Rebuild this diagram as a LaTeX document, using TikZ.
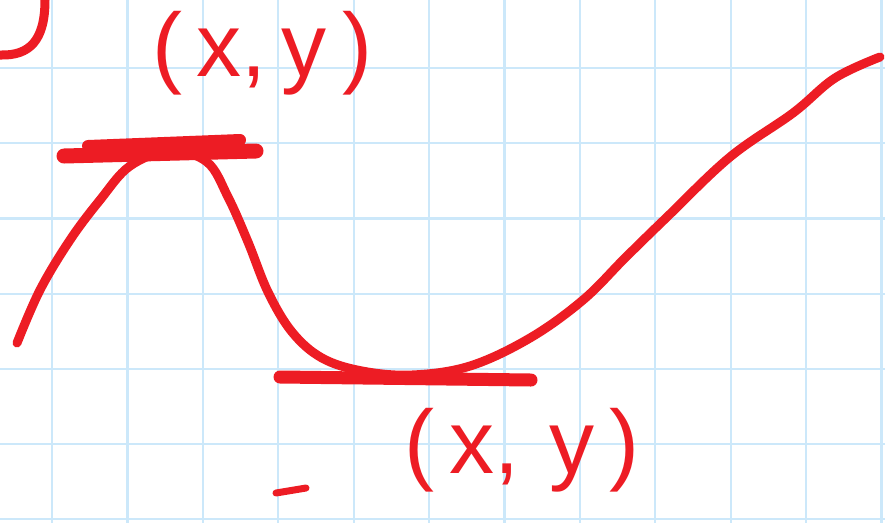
\documentclass[tikz,border=0pt]{standalone}
\usepackage{fontspec}
\setmainfont{Liberation Sans}
\usepackage{tikz}
\definecolor{inkred}{RGB}{237,28,36}
\definecolor{gridblue}{RGB}{204,232,250}
\tikzset{
  gridline/.style={draw=gridblue, line width=2.2pt},
  ink/.style={draw=inkred, line width=9pt, line cap=round, line join=round},
  tangent/.style={ink, line width=13pt},
  point/.style={text=inkred, font=\fontsize{90}{90}\selectfont, inner sep=0pt},
}

\begin{document}
\begin{tikzpicture}[x=1pt, y=-1pt]
\useasboundingbox (0,0) rectangle (885,523);
\fill[white] (0,0) rectangle (885,523);
% squared paper
\foreach \i in {0,...,11} \draw[gridline] ({52+75.4*\i},0) -- ({52+75.4*\i},523);
\foreach \j in {0,...,6} \draw[gridline] (0,{68+75.2*\j}) -- (885,{68+75.2*\j});
% bottom of a bracket cut off by the edge
\draw[ink] (0,55) .. controls (30,56) and (45,40) .. (45,0);
% the curve
\draw[ink] plot[smooth, tension=0.6] coordinates {(17,343) (40,290) (70,240) (100,200) (130,166) (170,151) (207,162) (228,197) (248,242) (268,292) (292,332) (322,358) (362,371) (412,375) (470,366) (530,338) (583,300) (625,258) (667,217) (730,157) (793,113) (835,78) (880,57)};
% horizontal tangents
\draw[tangent, line width=15pt] (64,156) -- (256,151);
\draw[tangent, line width=12pt] (88,146) -- (240,140);
\draw[tangent] (280,377) -- (531,380);
\draw[ink, line width=7pt] (276,493) -- (306,488);
% points
\node[point] (top) at (262,53) {(\,x,\,y\,)};
\node[point] (bottom) at (522,450) {(\,x,\,\,y\,)};
\end{tikzpicture}
\end{document}
